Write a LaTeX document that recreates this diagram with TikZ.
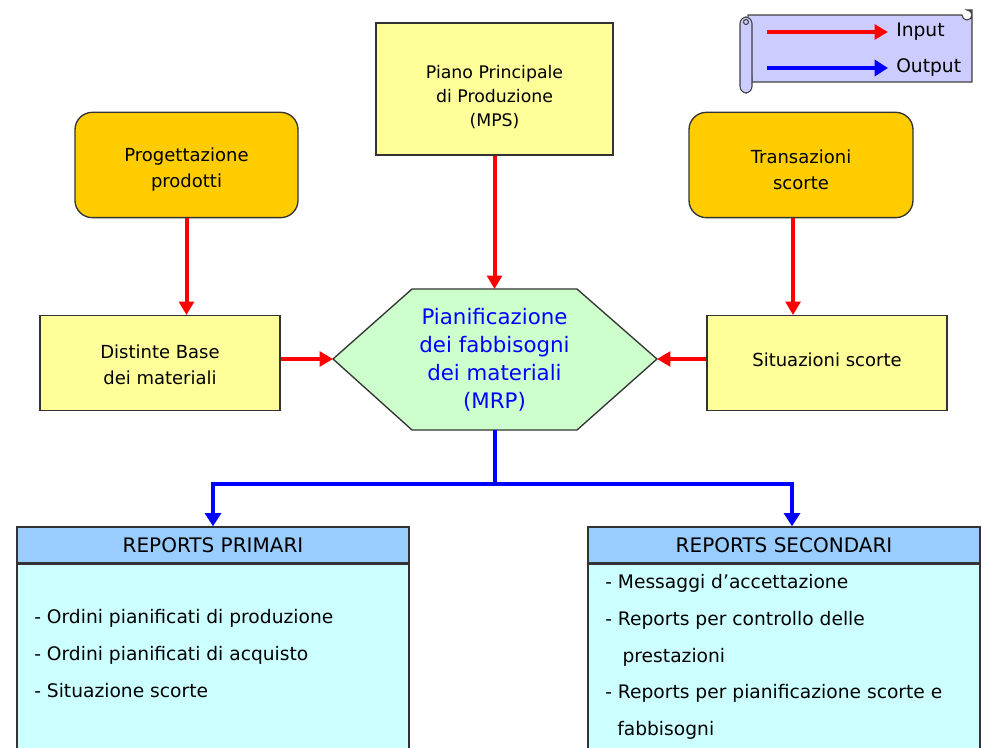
\documentclass[tikz,border=0pt]{standalone}
\usepackage{fontspec}
\setmainfont{DejaVu Sans}
\usetikzlibrary{arrows.meta}
\definecolor{paleyellow}{HTML}{FFFF99}
\definecolor{gold}{HTML}{FFCC00}
\definecolor{palegreen}{HTML}{CCFFCC}
\definecolor{headblue}{HTML}{99CCFF}
\definecolor{paleblue}{HTML}{CCFFFF}
\definecolor{lavender}{HTML}{CCCCFF}
\definecolor{inred}{HTML}{FF0000}
\definecolor{outblue}{HTML}{0000FF}
\begin{document}
\begin{tikzpicture}[x=0.75pt,y=-0.75pt,
  every node/.style={inner sep=0pt},
  framed/.style={draw=black!80,line width=1pt},
  yellowbox/.style={framed,fill=paleyellow},
  goldbox/.style={framed,fill=gold,rounded corners=13pt},
  boxtext/.style={align=center,font=\fontsize{13.5}{19.5}\selectfont},
  headbox/.style={framed,fill=headblue,minimum width=294pt,minimum height=27pt,
    font=\fontsize{15}{16}\selectfont},
  bodybox/.style={framed,fill=paleblue,minimum width=294pt,minimum height=150pt},
  listtext/.style={align=left,anchor=north west,font=\fontsize{14}{27.6}\selectfont},
  legendtext/.style={anchor=west,font=\fontsize{14}{16}\selectfont},
  redarrow/.style={draw=inred,line width=3pt,-{Triangle[length=10pt,width=11pt]}},
  bluearrow/.style={draw=outblue,line width=3pt,-{Triangle[length=10pt,width=12pt]}}
]
\useasboundingbox (0,0) rectangle (982,748);
\clip (0,0) rectangle (982,748);

% legend scroll
\draw[fill=lavender,draw=black!75,line width=0.8pt]
  (748,15) -- (962,15) arc[start angle=180,end angle=-90,radius=5] -- (972,10) -- (972,82) -- (752,82) -- cycle;
\draw[fill=lavender,draw=black!75,line width=0.8pt,rounded corners=5pt]
  (740,17) rectangle (752,93);
\draw[draw=black!75,line width=0.8pt] (746,22) circle[radius=2.5];
\coordinate (inS) at (767,32);
\coordinate (inE) at (888,32);
\coordinate (outS) at (767,68);
\coordinate (outE) at (888,68);
\draw[redarrow] (inS) -- (inE);
\draw[bluearrow] (outS) -- (outE);
\node[legendtext] (inlbl) at (896,32) {Input};
\node[legendtext] (outlbl) at (896,68) {Output};

% input sources
\node[yellowbox,minimum width=177.75pt,minimum height=99pt] (mps) at (494.5,89) {};
\node[boxtext,font=\fontsize{13}{18}\selectfont] (mpstext) at (494.5,97) {Piano Principale\\di Produzione\\(MPS)};

\node[goldbox,minimum width=167.25pt,minimum height=79pt] (prog) at (186.5,165) {};
\node[boxtext] (progtext) at (186.5,170) {Progettazione\\prodotti};

\node[goldbox,minimum width=168pt,minimum height=79pt] (trans) at (801,165) {};
\node[boxtext] (transtext) at (801,170) {Transazioni\\scorte};

\node[yellowbox,minimum width=180pt,minimum height=71pt] (dist) at (160,363) {};
\node[boxtext] (disttext) at (160,365) {Distinte Base\\dei materiali};

\node[yellowbox,minimum width=180pt,minimum height=71pt] (sit) at (827,363) {};
\node[boxtext] (sittext) at (827,360) {Situazioni scorte};

% central process
\coordinate (hexL) at (333,359);
\coordinate (hexR) at (657,359);
\coordinate (hexT) at (494.5,289);
\coordinate (hexB) at (494.5,430);
\draw[framed,fill=palegreen] (hexL) -- (412,289) -- (577,289) -- (hexR) -- (577,430) -- (412,430) -- cycle;
\node[align=center,text=outblue,font=\fontsize{16}{21}\selectfont] (mrp) at (494.5,360)
  {Pianificazione\\dei fabbisogni\\dei materiali\\(MRP)};

% outputs
\node[headbox] (primhead) at (213,545) {REPORTS PRIMARI};
\node[bodybox,anchor=north] (primbody) at (primhead.south) {};
\node[headbox] (sechead) at (784,545) {REPORTS SECONDARI};
\node[bodybox,anchor=north] (secbody) at (sechead.south) {};

\node[listtext] (primlist) at (34,609)
  {- Ordini pianificati di produzione\\- Ordini pianificati di acquisto\\- Situazione scorte};
\node[listtext] (seclist) at (605,574)
  {- Messaggi d'accettazione\\- Reports per controllo delle\\\hspace{13pt}prestazioni\\- Reports per pianificazione scorte e\\\hspace{9pt}fabbisogni};

% input connectors
\draw[redarrow] (prog.south) -- (dist.north -| prog.south);
\draw[redarrow] (mps.south) -- (hexT);
\draw[redarrow] ([xshift=-6pt]trans.south) -- ([xshift=-6pt]trans.south |- sit.north);
\draw[redarrow] (dist.east |- hexL) -- (hexL);
\draw[redarrow] (sit.west |- hexR) -- (hexR);

% output connectors
\coordinate (split) at (494.5,484);
\draw[bluearrow] (hexB) -- (split) -| (primhead.north);
\draw[bluearrow] (split) -| ([xshift=6pt]sechead.north);
\end{tikzpicture}
\end{document}
